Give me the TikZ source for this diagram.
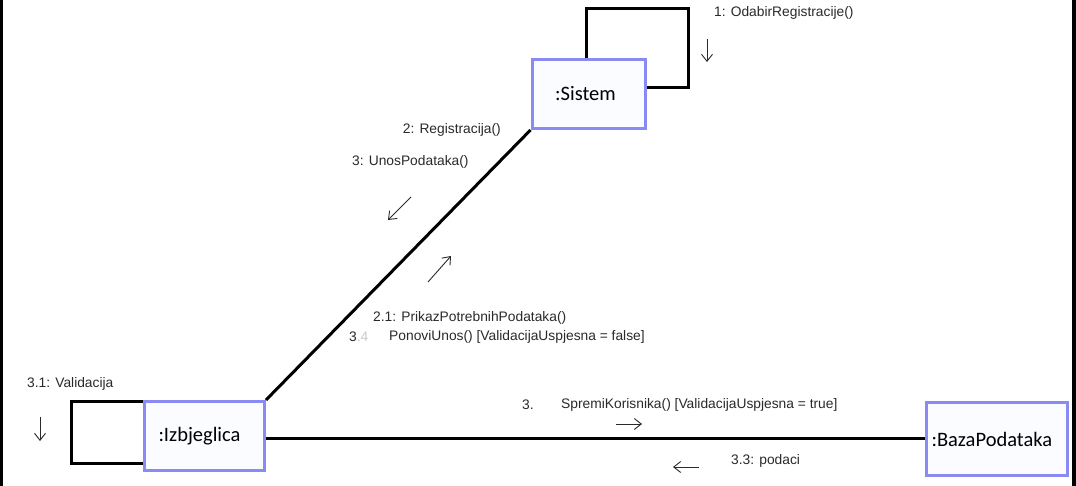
\documentclass[tikz,border=0pt]{standalone}
\usepackage{fontspec}
\setmainfont{Liberation Sans}
\newfontfamily\boxfont{Carlito}
\usetikzlibrary{arrows.meta}
\definecolor{objborder}{HTML}{8A8AF5}
\definecolor{objfill}{HTML}{FAFCFF}
\definecolor{lbl}{HTML}{2A2A2A}
\tikzset{
  obj/.style={draw=objborder, fill=objfill, line width=3pt, minimum width=#1, minimum height=69pt, inner sep=0pt, font=\boxfont\fontsize{20.5}{22}\selectfont, text=black},
  link/.style={line width=3pt, black},
  msg/.style={font=\fontsize{13.8}{16}\selectfont, text=lbl, inner sep=0pt},
  dirarrow/.style={line width=0.9pt, lbl, -{Straight Barb[length=7pt,width=11pt]}},
}
\begin{document}
\begin{tikzpicture}[x=1pt,y=-1pt]
\useasboundingbox (0,0) rectangle (1076,486);
\fill[white] (0,0) rectangle (1076,486);
\fill[black] (0,0) rectangle (3,486);
\fill[black] (1072,0) rectangle (1076,486);
% self loops
\draw[link] (586,60) -- (586,9) -- (688,9) -- (688,88) -- (645,88);
\draw[link] (143,401) -- (71,401) -- (71,463) -- (143,463);
% nodes
\node[obj=113pt] (sis) at (588.5,94) {\hspace*{-6pt}:Sistem};
\node[obj=120pt, anchor=west, text width=92pt, align=left] (izb) at (143,436) {:Izbjeglica};
\node[obj=141pt, minimum height=73pt, anchor=west, text width=131pt, align=left] (baza) at (925,439) {:BazaPodataka};
% links
\draw[link] (sis.south west) -- (izb.north east);
\draw[link] (izb.east |- 0,438) -- (baza.west |- 0,438);
% labels
\node[msg, anchor=west] (m1) at (714,13) {1: OdabirRegistracije()};
\coordinate (a1s) at (707,39); \coordinate (a1e) at (707,62);
\draw[dirarrow] (a1s) -- (a1e);
\node[msg, anchor=east] (m2) at (501,130) {2: Registracija()};
\node[msg, anchor=west] (m3) at (352,162) {3: UnosPodataka()};
\coordinate (a2s) at (411,197); \coordinate (a2e) at (388,220);
\draw[dirarrow] (a2s) -- (a2e);
\coordinate (a3s) at (428,282); \coordinate (a3e) at (451,256);
\draw[dirarrow] (a3s) -- (a3e);
\node[msg, anchor=west] (m21) at (373,318) {2.1: PrikazPotrebnihPodataka()};
\node[msg, anchor=west] (m34a) at (349,337) {3\textcolor{lbl!25}{.4}};
\node[msg, anchor=west] (m34) at (389,337) {PonoviUnos() [ValidacijaUspjesna = false]};
\node[msg, anchor=west] (m31) at (27,384) {3.1: Validacija};
\coordinate (a4s) at (40,417); \coordinate (a4e) at (40,441);
\draw[dirarrow] (a4s) -- (a4e);
\node[msg, anchor=west] (m32a) at (522,405) {3.};
\node[msg, anchor=west] (m32) at (561,405) {SpremiKorisnika() [ValidacijaUspjesna = true]};
\coordinate (a5s) at (616,424); \coordinate (a5e) at (642,424);
\draw[dirarrow] (a5s) -- (a5e);
\node[msg, anchor=west] (m33) at (731,461) {3.3: podaci};
\coordinate (a6s) at (699,467); \coordinate (a6e) at (673,467);
\draw[dirarrow] (a6s) -- (a6e);
\end{tikzpicture}
\end{document}
